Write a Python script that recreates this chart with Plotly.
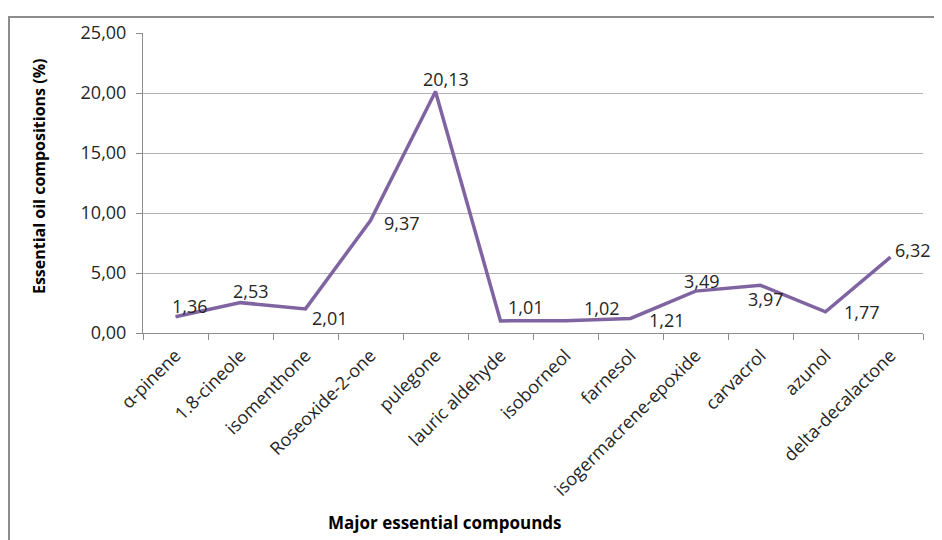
import plotly.graph_objects as go

categories = ["α-pinene", "1.8-cineole", "isomenthone", "Roseoxide-2-one", "pulegone",
              "lauric aldehyde", "isoborneol", "farnesol", "isogermacrene-epoxide",
              "carvacrol", "azunol", "delta-decalactone"]
values = [1.36, 2.53, 2.01, 9.37, 20.13, 1.01, 1.02, 1.21, 3.49, 3.97, 1.77, 6.32]

# label offsets in pixels (style only)
label_dx = [14, 10, 24, 31, 10, 25, 36, 36, 6, 5, 36, 22]
label_dy = [11, 12, -9, -2, 12, 14, 13, -2, 10, -14, 0, 7]

FONT = "Open Sans"
OFF = 8  # page body margin
W, H = 942 - OFF, 540 - OFF
ML, MT = 143 - OFF, 31 - OFF
MR = W - (923 - OFF)
MB = H - (333 - OFF)
PW, PH = W - ML - MR, H - MT - MB


def px_x(page_x):
    return (page_x - OFF - ML) / PW


def px_y(page_y):
    return (MT + PH - (page_y - OFF)) / PH


fig = go.Figure()
fig.add_trace(go.Scatter(
    x=categories, y=values, mode="lines",
    line=dict(color="#8064A2", width=3.5),
    hoverinfo="x+y", showlegend=False,
))

annotations = []
for c, v, dx, dy in zip(categories, values, label_dx, label_dy):
    annotations.append(dict(
        x=c, y=v, xref="x", yref="y", text=f"{v:.2f}".replace(".", ","),
        showarrow=False, xshift=dx, yshift=dy, xanchor="center", yanchor="middle",
        font=dict(family=FONT, size=18, color="#262626"),
    ))

annotations.append(dict(
    text="<b>Essential oil compositions (%)</b>", xref="paper", yref="paper",
    x=px_x(39), y=px_y(175), textangle=-90, showarrow=False,
    xanchor="center", yanchor="middle",
    font=dict(family=FONT, size=16, color="#000000"),
))
annotations.append(dict(
    text="<b>Major essential compounds</b>", xref="paper", yref="paper",
    x=px_x(445), y=px_y(524), showarrow=False,
    xanchor="center", yanchor="middle",
    font=dict(family=FONT, size=17, color="#000000"),
))

fig.update_layout(
    width=W, height=H,
    margin=dict(l=ML, r=MR, t=MT, b=MB, pad=0),
    paper_bgcolor="white", plot_bgcolor="white",
    separators=",.",
    font=dict(family=FONT, size=18, color="#262626"),
    annotations=annotations,
    shapes=[dict(
        type="rect", xref="paper", yref="paper",
        x0=px_x(9), x1=px_x(960), y0=px_y(560), y1=px_y(15),
        line=dict(color="#8c8c8c", width=2), fillcolor="rgba(0,0,0,0)", layer="below",
    )],
    xaxis=dict(
        type="category", tickson="boundaries", ticks="outside", ticklen=6,
        tickcolor="#8c8c8c", showline=True, linecolor="#8c8c8c", linewidth=1,
        showgrid=False, tickangle=-45, tickfont=dict(family=FONT, size=18, color="#262626"),
        range=[-0.5, len(categories) - 0.5], ticklabelstandoff=4,
    ),
    yaxis=dict(
        range=[0, 25], dtick=5, tickformat=".2f", ticks="outside", ticklen=6,
        tickcolor="#8c8c8c", showline=True, linecolor="#8c8c8c", linewidth=1,
        showgrid=True, gridcolor="#b3b3b3", gridwidth=1, zeroline=False,
        tickfont=dict(family=FONT, size=18, color="#262626"), ticklabelstandoff=6,
    ),
)

fig.write_html("out.html")
